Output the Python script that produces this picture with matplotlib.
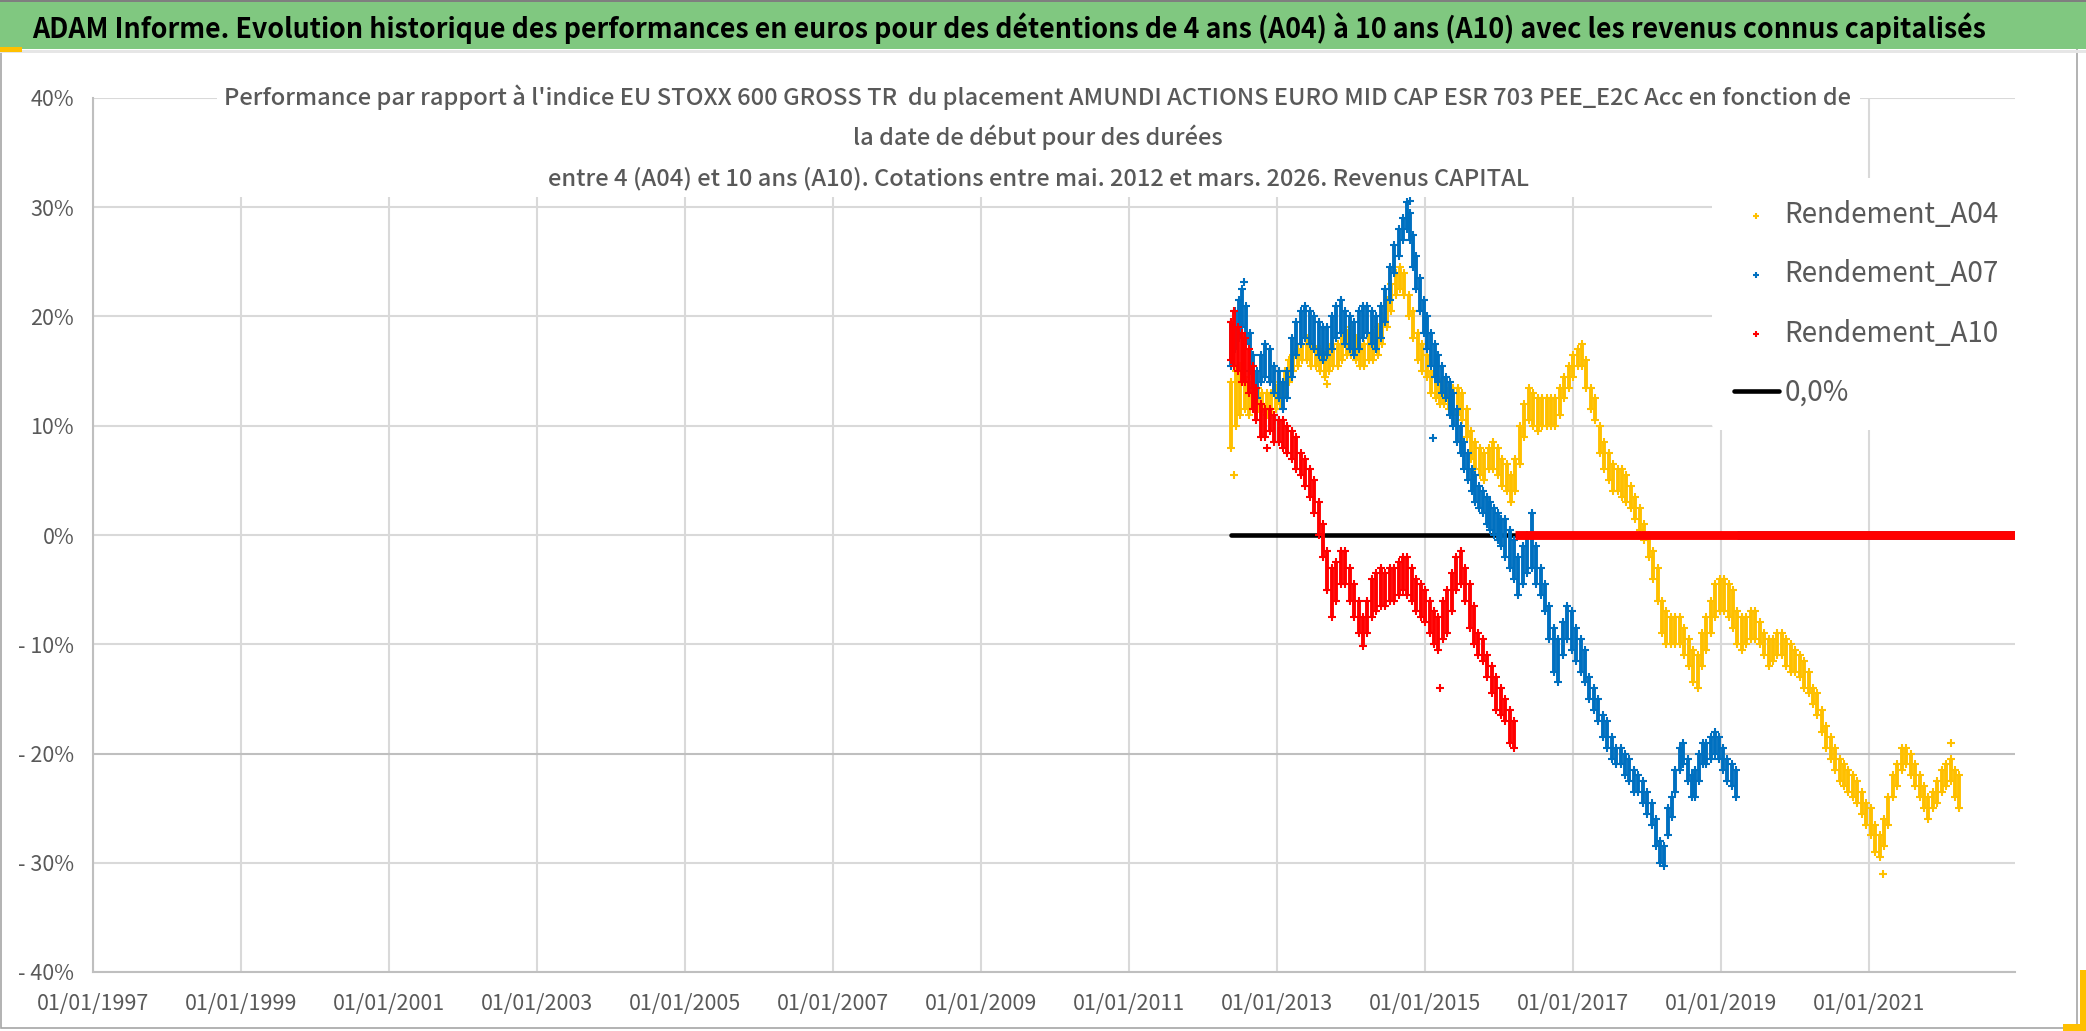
import numpy as np
import matplotlib
matplotlib.use("Agg")
import matplotlib.pyplot as plt
from matplotlib.patches import Rectangle

# ---------------- texts ----------------
main_title = ("ADAM Informe. Evolution historique des performances en euros pour des détentions "
              "de 4 ans (A04) à 10 ans (A10) avec les revenus connus capitalisés")
chart_title_lines = [
    "Performance par rapport à l'indice EU STOXX 600 GROSS TR  du placement AMUNDI ACTIONS EURO MID CAP ESR 703 PEE_E2C Acc en fonction de",
    "la date de début pour des durées",
    "entre 4 (A04) et 10 ans (A10). Cotations entre mai. 2012 et mars. 2026. Revenus CAPITAL",
]
series_names = ["Rendement_A04", "Rendement_A07", "Rendement_A10"]
zero_label = "0,0%"

x_ticks = [1997, 1999, 2001, 2003, 2005, 2007, 2009, 2011, 2013, 2015, 2017, 2019, 2021]
x_tick_labels = ["01/01/1997", "01/01/1999", "01/01/2001", "01/01/2003", "01/01/2005",
                 "01/01/2007", "01/01/2009", "01/01/2011", "01/01/2013", "01/01/2015",
                 "01/01/2017", "01/01/2019", "01/01/2021"]
y_ticks = [-40, -30, -20, -10, 0, 10, 20, 30, 40]
y_tick_labels = ["- 40%", "- 30%", "- 20%", "- 10%", "0%", "10%", "20%", "30%", "40%"]

# ---------------- data (start date as decimal year, performance in %) ----------------
# Rendement_A04 : band (low / high) of the cloud of daily points
a04_year = [2012.38, 2012.44, 2012.50, 2012.56, 2012.62, 2012.68, 2012.74, 2012.80, 2012.86, 2012.92,
            2012.98, 2013.04, 2013.10, 2013.16, 2013.22, 2013.28, 2013.34, 2013.40, 2013.46, 2013.52,
            2013.58, 2013.64, 2013.70, 2013.76, 2013.82, 2013.88, 2013.94, 2014.00, 2014.06, 2014.12,
            2014.18, 2014.24, 2014.30, 2014.36, 2014.42, 2014.48, 2014.54, 2014.60, 2014.66, 2014.72,
            2014.78, 2014.84, 2014.90, 2014.96, 2015.02, 2015.08, 2015.14, 2015.20, 2015.26, 2015.32,
            2015.38, 2015.44, 2015.50, 2015.56, 2015.62, 2015.68, 2015.74, 2015.80, 2015.86, 2015.92,
            2015.98, 2016.04, 2016.10, 2016.16, 2016.22, 2016.28, 2016.34, 2016.40, 2016.46, 2016.52,
            2016.58, 2016.64, 2016.70, 2016.76, 2016.82, 2016.88, 2016.94, 2017.00, 2017.06, 2017.12,
            2017.18, 2017.24, 2017.30, 2017.36, 2017.42, 2017.48, 2017.54, 2017.60, 2017.66, 2017.72,
            2017.78, 2017.84, 2017.90, 2017.96, 2018.02, 2018.08, 2018.14, 2018.20, 2018.26, 2018.32,
            2018.38, 2018.44, 2018.50, 2018.56, 2018.62, 2018.68, 2018.74, 2018.80, 2018.86, 2018.92,
            2018.98, 2019.04, 2019.10, 2019.16, 2019.22, 2019.28, 2019.34, 2019.40, 2019.46, 2019.52,
            2019.58, 2019.64, 2019.70, 2019.76, 2019.82, 2019.88, 2019.94, 2020.00, 2020.06, 2020.12,
            2020.18, 2020.24, 2020.30, 2020.36, 2020.42, 2020.48, 2020.54, 2020.60, 2020.66, 2020.72,
            2020.78, 2020.84, 2020.90, 2020.96, 2021.02, 2021.08, 2021.14, 2021.20, 2021.26, 2021.32,
            2021.38, 2021.44, 2021.50, 2021.56, 2021.62, 2021.68, 2021.74, 2021.80, 2021.86, 2021.92,
            2021.98, 2022.04, 2022.10, 2022.16, 2022.22]
a04_low = [8, 10, 11, 11.5, 11, 11.5, 11.5, 11.5, 11, 11,
           11.5, 12, 13, 14, 15, 15.5, 16, 16, 15.5, 15.5,
           15, 14.5, 15, 15.5, 15.5, 16, 16.5, 16.5, 16, 15.5,
           15.5, 16, 16, 16.5, 17.5, 19, 20.5, 22, 22.5, 22,
           20, 18, 16, 15, 14.5, 13, 12.5, 12, 12, 11.5,
           11, 11, 10.5, 9, 7, 6, 5.5, 5, 6, 6,
           5.5, 4.5, 4, 3, 4, 6.5, 9, 10.5, 10, 9.5,
           10, 10, 10, 10, 11, 12.5, 13.5, 14.5, 15.5, 15.5,
           13.5, 11.5, 10.5, 7.5, 6, 5, 4, 4, 3.5, 3,
           2.5, 1.5, 0.5, -0.5, -2, -4, -6, -9, -10, -10,
           -10, -10, -11, -12, -13.5, -14, -12, -10.5, -9, -7.5,
           -7, -7, -7.5, -8.5, -10, -10.5, -10, -9.5, -9.5, -10,
           -11, -12, -11.5, -11, -11, -12, -12.5, -12.5, -13, -14,
           -14.5, -15.5, -16.5, -18, -19.5, -20.5, -21.5, -22.5, -23, -23.5,
           -24, -24.5, -25.5, -26.5, -27.5, -29, -29.5, -28.5, -26.5, -24,
           -23, -21.5, -21, -22, -23, -24, -25, -26, -25, -24.5,
           -23.5, -23, -22.5, -24, -25]
a04_high = [14, 15, 15.5, 14.5, 14, 13.5, 13.5, 13, 13, 13,
            13.5, 14, 15, 16, 16.5, 17, 17.5, 18, 17.5, 17,
            17, 16.5, 17, 17.5, 17.5, 18, 18.5, 19, 18, 17.5,
            17.5, 18, 18.5, 19, 20, 21.5, 23, 24, 24.5, 24,
            22, 20.5, 18.5, 17.5, 16.5, 15, 14.5, 14, 14, 13.5,
            13.5, 13.5, 13, 11.5, 9.5, 8.5, 8, 7.5, 8, 8.5,
            8, 7, 6.5, 5.5, 7, 10, 12, 13.5, 13, 12.5,
            12.5, 12.5, 12.5, 12.5, 13.5, 14.5, 15.5, 16.5, 17, 17.5,
            16, 13.5, 12.5, 10, 8.5, 7.5, 6.5, 6, 6, 5.5,
            4.5, 3.5, 2.5, 1, 0, -1.5, -3, -6, -7, -7.5,
            -7.5, -7.5, -8.5, -9.5, -10.5, -11, -9, -7.5, -6, -4.5,
            -4, -4, -4.5, -5, -7, -7.5, -7.5, -7, -7, -8,
            -9, -9.5, -9.5, -9, -9, -9.5, -10, -10.5, -11, -11.5,
            -12.5, -14, -14.5, -16, -17.5, -18.5, -19.5, -20.5, -21, -21.5,
            -22, -22.5, -23.5, -24.5, -25, -26.5, -27.5, -26, -24, -22,
            -21, -19.5, -19.5, -20, -21, -22, -23, -24, -23.5, -22.5,
            -21.5, -21, -20.5, -21.5, -22]

# Rendement_A07
a07_year = [2012.38, 2012.43, 2012.48, 2012.53, 2012.58, 2012.63, 2012.68, 2012.73, 2012.78, 2012.84,
            2012.90, 2012.96, 2013.02, 2013.08, 2013.14, 2013.20, 2013.26, 2013.32, 2013.38, 2013.44,
            2013.50, 2013.56, 2013.62, 2013.68, 2013.74, 2013.80, 2013.86, 2013.92, 2013.98, 2014.04,
            2014.10, 2014.16, 2014.22, 2014.28, 2014.34, 2014.40, 2014.46, 2014.52, 2014.58, 2014.64,
            2014.70, 2014.76, 2014.80, 2014.84, 2014.88, 2014.93, 2014.98, 2015.03, 2015.08, 2015.13,
            2015.18, 2015.23, 2015.28, 2015.33, 2015.38, 2015.43, 2015.48, 2015.53, 2015.58, 2015.63,
            2015.68, 2015.73, 2015.78, 2015.83, 2015.88, 2015.93, 2015.98, 2016.03, 2016.08, 2016.14,
            2016.20, 2016.26, 2016.32, 2016.38, 2016.44, 2016.50, 2016.56, 2016.62, 2016.68, 2016.74,
            2016.80, 2016.86, 2016.92, 2016.98, 2017.04, 2017.10, 2017.16, 2017.22, 2017.28, 2017.34,
            2017.40, 2017.46, 2017.52, 2017.58, 2017.64, 2017.70, 2017.76, 2017.82, 2017.88, 2017.94,
            2018.00, 2018.06, 2018.12, 2018.18, 2018.23, 2018.28, 2018.33, 2018.38, 2018.44, 2018.49,
            2018.55, 2018.60, 2018.65, 2018.70, 2018.75, 2018.80, 2018.86, 2018.92, 2018.97, 2019.03,
            2019.08, 2019.14, 2019.20]
a07_low = [15.5, 17, 18, 19, 17.5, 15, 13.5, 12.5, 14, 14.5,
           14, 13, 12.5, 11.5, 12.5, 14.5, 16.5, 17.5, 18, 17.5,
           17, 16.5, 16, 16.5, 17, 18, 18.5, 17.5, 17, 16.5,
           17, 18, 18.5, 17.5, 17, 18, 19.5, 21.5, 24, 25.5,
           27, 28, 27, 24.5, 22.5, 20.5, 18.5, 17, 15.5, 14.5,
           14, 13, 12.5, 11, 10, 8.5, 7.5, 6, 5, 4,
           3, 2.5, 2, 1, 0.5, 0, -0.5, -1, -2, -3,
           -4, -5.5, -4.5, -3.5, -3, -4.5, -5.5, -7, -9.5, -12.5,
           -13.5, -11, -9.5, -10.5, -11.5, -12.5, -13.5, -15, -16, -17,
           -18.5, -19.5, -20.5, -21, -21, -22, -22.5, -23.5, -23.5, -24.5,
           -25.5, -26.5, -28.5, -30, -30.3, -27.5, -25.8, -23.5, -21.5, -21,
           -22.5, -24, -24, -22.5, -21, -21, -20.5, -20, -20.5, -21.5,
           -22.5, -23, -24]
a07_high = [19.5, 20.5, 21.5, 22.5, 21, 18.5, 16.5, 15, 16.5, 17.5,
            17, 15.5, 15, 14, 15, 18, 19.5, 20.5, 21, 20.5,
            20, 19.5, 19, 19, 20, 21, 21.5, 20.5, 20, 19.5,
            20.5, 21, 21, 20.5, 20, 21, 22.5, 24.5, 26.5, 28,
            29, 30.5, 29.5, 27.5, 25.5, 23.5, 21.5, 20, 18.5, 17.5,
            16.5, 15.5, 14.5, 14, 13, 11.5, 10, 8.5, 7.5, 6,
            5.5, 4.5, 4, 3.5, 3, 2.5, 2, 1.5, 1.5, 0.5,
            -0.5, -2, -1, 0, 2, -1, -3, -4.5, -6.5, -8.5,
            -9.5, -8, -6.5, -7, -8.5, -9.5, -10.5, -13, -14, -15,
            -16.5, -17, -18.5, -19.5, -19.5, -20, -20.5, -21.5, -22, -22.5,
            -23.5, -24.5, -26, -28, -28.5, -25, -24, -21.5, -19.5, -19,
            -20.5, -22, -21.5, -20, -19, -19, -18.5, -18, -18.5, -19.5,
            -20.5, -21, -21.5]

# Rendement_A10
a10_year = [2012.38, 2012.42, 2012.47, 2012.52, 2012.57, 2012.62, 2012.67, 2012.72, 2012.78, 2012.84,
            2012.90, 2012.96, 2013.02, 2013.08, 2013.14, 2013.20, 2013.26, 2013.32, 2013.38, 2013.44,
            2013.50, 2013.56, 2013.62, 2013.68, 2013.74, 2013.80, 2013.86, 2013.92, 2013.98, 2014.04,
            2014.10, 2014.16, 2014.22, 2014.28, 2014.34, 2014.40, 2014.46, 2014.52, 2014.58, 2014.64,
            2014.70, 2014.76, 2014.82, 2014.88, 2014.94, 2015.00, 2015.06, 2015.12, 2015.18, 2015.24,
            2015.30, 2015.36, 2015.42, 2015.48, 2015.54, 2015.60, 2015.66, 2015.72, 2015.78, 2015.84,
            2015.90, 2015.96, 2016.02, 2016.08, 2016.14, 2016.20]
a10_low = [16, 15.5, 15, 14, 14, 13, 11.5, 10.5, 9, 9,
           9.5, 8.5, 8.5, 8, 7.5, 7, 6, 5.5, 4.5, 3.5,
           2, 0, -2, -5, -7.5, -6, -4.5, -4.5, -6, -7.5,
           -9, -10.2, -9, -7.5, -7, -6.5, -6.5, -6, -6, -5.5,
           -5, -5.5, -6, -7, -7.5, -8, -9, -10, -10.5, -9.5,
           -9, -7, -5, -4.5, -6, -8.5, -10, -11, -11.5, -13,
           -14.5, -16, -16.5, -17, -19, -19.5]
a10_high = [19.5, 20.5, 19, 18.5, 18, 17, 15.5, 13.5, 12, 11.5,
            11.5, 11, 10.5, 10.5, 10, 9.5, 9, 7.5, 7, 6,
            5, 3, 1, -1.5, -3, -2.5, -1.5, -1.5, -3, -4.5,
            -6, -7.5, -6, -4, -3.5, -3, -3.5, -3, -3, -2.5,
            -2, -2, -3, -4, -4.5, -5, -6, -7, -7.5, -6,
            -5, -3.5, -2, -1.5, -3, -4.5, -6.5, -9, -9.5, -11,
            -12, -13, -14, -15, -16, -17]

# isolated points of the clouds
a04_out_year = [2012.42, 2013.67, 2021.18, 2022.10]
a04_out_val = [5.5, 13.8, -31, -19]
a07_out_year = [2012.55, 2015.11, 2014.79]
a07_out_val = [23.2, 8.9, 30.6]
a10_out_year = [2015.20, 2012.86]
a10_out_val = [-14, 8]

# periods where the performance is reported as 0 (holding period not complete)
a04_zero_span = [2022.24, 2022.97]
a07_zero_span = [2019.22, 2022.97]
a10_zero_span = [2016.22, 2022.97]
ref_zero_span = [2012.38, 2022.97]

# ---------------- styling ----------------
C04, C07, C10 = "#FFC000", "#0070C0", "#FF0000"
GREY_TXT = "#595959"
FONT = ["Noto Sans CJK JP", "Liberation Sans", "DejaVu Sans"]

W, H, DPI = 2086, 1031, 100
fig = plt.figure(figsize=(W / DPI, H / DPI), dpi=DPI, facecolor="white")

def px_rect(x0, y0, x1, y1, **kw):
    """rectangle given in pixel coordinates (origin top-left)"""
    return Rectangle((x0 / W, 1 - y1 / H), (x1 - x0) / W, (y1 - y0) / H,
                     transform=fig.transFigure, **kw)

# outer frame, green header band, selection handles
fig.patches.append(px_rect(1, 1, 2077, 1028, fill=False, edgecolor="#A6A6A6", lw=1.2, zorder=0))
fig.patches.append(px_rect(0, 0, W, 49, facecolor="#80C880", edgecolor="none", zorder=1))
fig.patches.append(px_rect(0, 0, W, 2, facecolor="#7F7F7F", edgecolor="none", zorder=1))
fig.patches.append(px_rect(0, 50, W, 53, facecolor="#E6E6E6", edgecolor="none", zorder=1))
fig.patches.append(px_rect(0, 47, 22, 52, facecolor="#FFC000", edgecolor="none", zorder=2))
fig.patches.append(px_rect(2080, 970, W, H, facecolor="#FFC000", edgecolor="none", zorder=2))
fig.patches.append(px_rect(2063, 1024, W, H, facecolor="#FFC000", edgecolor="none", zorder=2))

ax = fig.add_axes([93 / W, (H - 972) / H, (2015 - 93) / W, (972 - 98) / H])
ax.set_facecolor("white")
ax.set_xlim(1997.0, 2022.97)
ax.set_ylim(-40, 40)

ax.set_xticks(x_ticks)
ax.set_xticklabels(x_tick_labels)
ax.set_yticks(y_ticks)
ax.set_yticklabels(y_tick_labels)
ax.tick_params(length=0, colors=GREY_TXT)
ax.tick_params(axis="y", pad=13.5)
ax.tick_params(axis="x", pad=15)
for lab in ax.get_xticklabels() + ax.get_yticklabels():
    lab.set_family(FONT)
    lab.set_fontsize(15.5)
    lab.set_color(GREY_TXT)

ax.grid(True, color="#D9D9D9", lw=1.5, zorder=0)
ax.set_axisbelow(True)
ax.get_ygridlines()[2].set_color("#BFBFBF")
for s in ("top", "right"):
    ax.spines[s].set_visible(False)
for s in ("left", "bottom"):
    ax.spines[s].set_color("#BFBFBF")
    ax.spines[s].set_linewidth(1.5)

# zero reference line
ax.plot(ref_zero_span, [0, 0], color="black", lw=3.3, solid_capstyle="round", zorder=2,
        label=zero_label)

def draw_cloud(years, low, high, oy, ov, zspan, color, z, name):
    ax.vlines(years, low, high, colors=color, lw=2.8, zorder=z)
    ax.scatter(years, low, marker="+", s=40, linewidths=1.5, color=color, zorder=z)
    ax.scatter(years, high, marker="+", s=40, linewidths=1.5, color=color, zorder=z, label=name)
    ax.scatter(oy, ov, marker="+", s=40, linewidths=1.5, color=color, zorder=z)
    ax.plot(zspan, [0, 0], color=color, lw=6.4, solid_capstyle="butt", zorder=z)

draw_cloud(a04_year, a04_low, a04_high, a04_out_year, a04_out_val, a04_zero_span, C04, 3, series_names[0])
draw_cloud(a07_year, a07_low, a07_high, a07_out_year, a07_out_val, a07_zero_span, C07, 4, series_names[1])
draw_cloud(a10_year, a10_low, a10_high, a10_out_year, a10_out_val, a10_zero_span, C10, 5, series_names[2])

handles, labels = ax.get_legend_handles_labels()
order = [labels.index(n) for n in series_names + [zero_label]]
leg = fig.legend([handles[i] for i in order], [labels[i] for i in order],
                 loc="upper left", bbox_to_anchor=(1712 / W, 1 - 178 / H),
                 bbox_transform=fig.transFigure, frameon=True, borderaxespad=0,
                 borderpad=0.8, handlelength=1.6, handletextpad=0.2, labelspacing=1.05,
                 scatterpoints=1, markerscale=0.7,
                 prop={"family": FONT, "size": 20})
leg.get_frame().set_facecolor("white")
leg.get_frame().set_edgecolor("none")
leg.get_frame().set_alpha(1)
leg.set_zorder(10)
for t in leg.get_texts():
    t.set_color(GREY_TXT)

# header title
t_main = fig.text(1009 / W, 1 - 38 / H, main_title, ha="center", va="baseline",
                  family=FONT, weight="bold", fontsize=22, color="black", zorder=5)

# chart title (white box hides the gridlines behind it)
fig.patches.append(px_rect(217, 72, 1860, 197, facecolor="white", edgecolor="none", zorder=4))
title_baselines = [105, 145, 185]
t_lines = [fig.text(1038 / W, 1 - yb / H, s, ha="center", va="baseline",
                    family=FONT, weight="medium", fontsize=19, color=GREY_TXT, zorder=6)
           for s, yb in zip(chart_title_lines, title_baselines)]

# fit title widths to the reference
renderer = fig.canvas.get_renderer()
w = t_main.get_window_extent(renderer).width
t_main.set_fontsize(t_main.get_fontsize() * 1952 / w)
w = t_lines[0].get_window_extent(renderer).width
fs = t_lines[0].get_fontsize() * 1627 / w
for t in t_lines:
    t.set_fontsize(fs)

fig.savefig("out.png", dpi=DPI, facecolor="white")
